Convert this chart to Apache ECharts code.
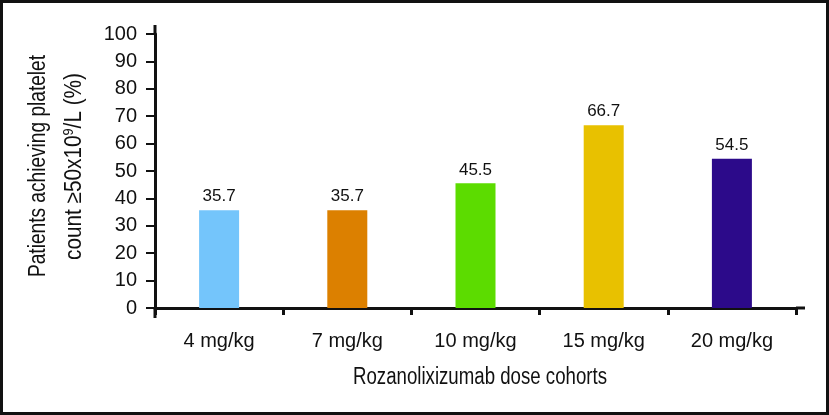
<!DOCTYPE html>
<html>
<head>
<meta charset="utf-8">
<script src="https://cdn.jsdelivr.net/npm/echarts@6/dist/echarts.min.js"></script>
<style>
html,body{margin:0;padding:0;background:#fff;}
#c{width:829px;height:415px;}
</style>
</head>
<body>
<div id="c"></div>
<script>
var categories = ['4 mg/kg', '7 mg/kg', '10 mg/kg', '15 mg/kg', '20 mg/kg'];
var values = [35.7, 35.7, 45.5, 66.7, 54.5];
var colors = ['#74c5fb', '#dc8000', '#5cdc00', '#e8c100', '#2c0a8a'];
var yTicks = [0, 10, 20, 30, 40, 50, 60, 70, 80, 90, 100];
var xTitle = 'Rozanolixizumab dose cohorts';
var yTitle1 = 'Patients achieving platelet';
var yTitle2a = 'count \u226550x10';
var yTitle2sup = '9';
var yTitle2b = '/L (%)';

var chart = echarts.init(document.getElementById('c'));
var sans = '"Liberation Sans", Arial, Helvetica, sans-serif';

var ctx = document.createElement('canvas').getContext('2d');
function tw(t, size) { ctx.font = size + 'px ' + sans; return ctx.measureText(t).width; }

var option = {
  animation: false,
  grid: { left: 155, right: 33, top: 34, bottom: 107 },
  xAxis: {
    type: 'category',
    data: categories,
    axisLine: { lineStyle: { color: '#111', width: 3 } },
    axisTick: { show: true, alignWithLabel: false, length: 7, lineStyle: { color: '#111', width: 3 } },
    axisLabel: { color: '#111', fontSize: 20, fontFamily: sans, margin: 23 }
  },
  yAxis: {
    type: 'value',
    min: 0,
    max: 100,
    interval: 10,
    splitLine: { show: false },
    axisLine: { show: true, lineStyle: { color: '#111', width: 3 } },
    axisTick: { show: true, length: 9, lineStyle: { color: '#111', width: 2 } },
    axisLabel: {
      color: '#111', fontSize: 20, fontFamily: sans, margin: 18,
      formatter: function (v) { return yTicks.indexOf(v) >= 0 ? String(v) : ''; }
    }
  },
  series: [{
    type: 'bar',
    barWidth: 40,
    data: values.map(function (v, i) { return { value: v, itemStyle: { color: colors[i] } }; }),
    label: { show: true, position: 'top', distance: 5, color: '#111', fontSize: 17, fontFamily: sans }
  }]
};
chart.setOption(option);

var p0 = chart.convertToPixel({ gridIndex: 0 }, [0, 0]);
var p100 = chart.convertToPixel({ gridIndex: 0 }, [0, 100]);
var yAxisX = 155;
var rightEnd = 829 - 33;

var TS = 23;
var SS = 14;
var sx1 = 222 / tw(yTitle1, TS);
var w2 = tw(yTitle2a, TS) + tw(yTitle2sup, SS) + tw(yTitle2b, TS);
var sx2 = 187 / w2;
var sxX = 254 / tw(xTitle, TS);

chart.setOption({
  graphic: [
    { type: 'rect', shape: { x: 1.5, y: 1.5, width: 826, height: 412 }, style: { fill: 'none', stroke: '#111', lineWidth: 3 }, z: 100 },
    { type: 'line', shape: { x1: yAxisX, y1: p100[1] - 9, x2: yAxisX, y2: p100[1] }, style: { stroke: '#111', lineWidth: 3 } },
    { type: 'line', shape: { x1: yAxisX, y1: p0[1], x2: yAxisX, y2: p0[1] + 10 }, style: { stroke: '#111', lineWidth: 3 } },
    { type: 'line', shape: { x1: rightEnd, y1: p0[1], x2: rightEnd + 9, y2: p0[1] }, style: { stroke: '#111', lineWidth: 3 } },
    {
      type: 'text', x: 480, y: 378, scaleX: sxX,
      style: { text: xTitle, font: TS + 'px ' + sans, fill: '#111', align: 'center', verticalAlign: 'middle' }
    },
    {
      type: 'text', x: 39, y: 166, rotation: Math.PI / 2, scaleX: sx1,
      style: { text: yTitle1, font: TS + 'px ' + sans, fill: '#111', align: 'center', verticalAlign: 'middle' }
    },
    {
      type: 'text', x: 75, y: 166.5, rotation: Math.PI / 2, scaleX: sx2,
      style: {
        text: '{a|' + yTitle2a + '}{s|' + yTitle2sup + '}{a|' + yTitle2b + '}',
        align: 'center', verticalAlign: 'middle',
        rich: {
          a: { fontSize: TS, fontFamily: sans, fill: '#111', color: '#111', lineHeight: 26 },
          s: { fontSize: SS, fontFamily: sans, fill: '#111', color: '#111', lineHeight: 26, verticalAlign: 'top' }
        }
      }
    }
  ]
});
</script>
</body>
</html>
